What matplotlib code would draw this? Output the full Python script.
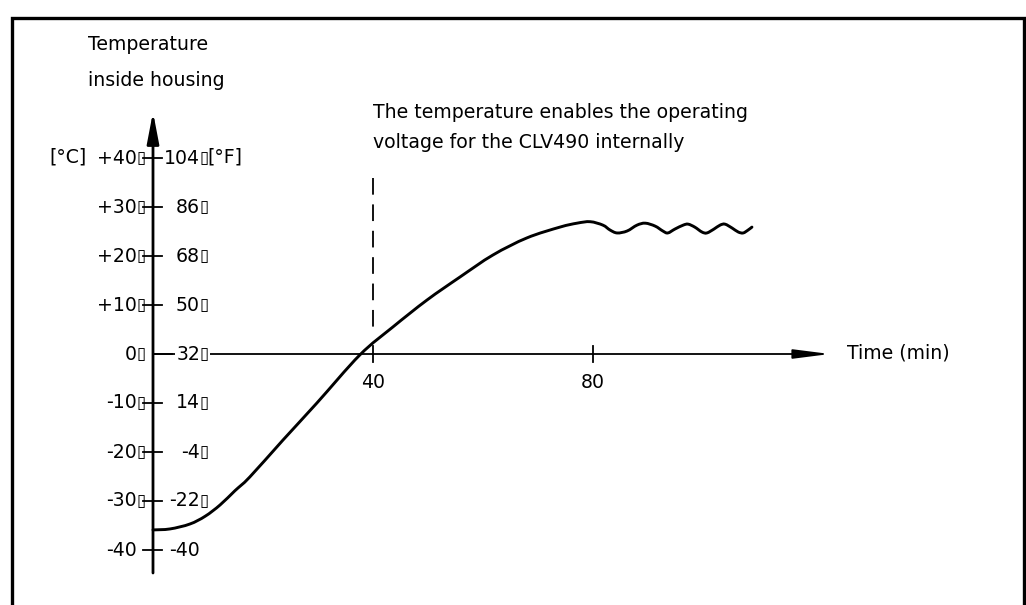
import numpy as np
import matplotlib
matplotlib.use('Agg')
import matplotlib.pyplot as plt
from matplotlib.path import Path
from matplotlib.patches import PathPatch

plt.rcParams['font.family'] = ['DejaVu Sans']
plt.rcParams['lines.scale_dashes'] = False

# temperature curve (time in min, temperature in degC)
time_min = [0, 3.1, 6.7, 9.5, 12.2, 14.9, 17.6, 23.6, 29.8, 37.6,
            43.6, 49.8, 55.8, 61.8, 68.0, 74.0, 77.1, 79.5,
            81.8, 83.1, 84.4, 86.2, 88.0, 89.5, 91.3, 92.7, 93.6, 94.9, 96.4,
            97.3, 98.5, 99.8, 100.7, 102.0, 103.1, 104.0, 105.3, 106.4, 107.3,
            108.2, 108.9]
temp_c = [-35.9, -35.7, -34.7, -33.1, -30.8, -27.9, -25.1, -17.6, -10.0, -0.2,
          5.5, 11.0, 15.7, 20.2, 23.7, 25.9, 26.7, 27.0,
          26.3, 25.3, 24.7, 25.1, 26.3, 26.7, 26.1, 25.1, 24.7, 25.5, 26.3,
          26.5, 25.9, 24.9, 24.7, 25.5, 26.3, 26.5, 25.7, 24.9, 24.7,
          25.3, 25.9]

c_ticks = [40, 30, 20, 10, 0, -10, -20, -30, -40]
c_labels = ['+40\u25af', '+30\u25af', '+20\u25af', '+10\u25af', '0\u25af',
            '-10\u25af', '-20\u25af', '-30\u25af', '-40']
f_labels = ['104\u25af', '86\u25af', '68\u25af', '50\u25af', '32\u25af',
            '14\u25af', '-4\u25af', '-22\u25af', '-40']
x_ticks = [40, 80]
x_labels = ['40', '80']
switch_time = 40

# pixel scale of the drawing: 5.5 px per minute, 4.9 px per degC
px_x, px_y = 5.5, 4.9
x0, y0 = 153, 354
W, H = 1026, 605

fig = plt.figure(figsize=(W / 100, H / 100), dpi=100)
ax = fig.add_axes([0, 0, 1, 1])
ax.set_xlim(-x0 / px_x, (W - x0) / px_x)
ax.set_ylim((y0 - H) / px_y, y0 / px_y)
ax.axis('off')

def X(px):
    return (px - x0) / px_x

def Y(py):
    return (y0 - py) / px_y

fs = 13.6
box_fs = 12

def label(x, y, s, bg=False):
    # number right-aligned at x, the little box glyph just after it
    box = s.endswith('\u25af')
    t = ax.text(x, y, s.rstrip('\u25af'), ha='right', va='center', fontsize=fs)
    if bg:
        t.set_bbox(dict(facecolor='white', edgecolor='none', pad=1))
    if box:
        b = ax.text(x - 0.1, y + 0.1, '\u25af', ha='left', va='center',
                    fontsize=box_fs)
        if bg:
            b.set_bbox(dict(facecolor='white', edgecolor='none', pad=1))

# frame (open at the bottom)
fl, fr, ft = 12 / W, 1024 / W, 1 - 18 / H
ax.plot([fl, fl, fr, fr], [0, ft, ft, 0], transform=ax.transAxes, color='k',
        lw=2.4, clip_on=False, solid_joinstyle='miter')

# y axis with arrow
ax.annotate('', xy=(0, Y(112)), xytext=(0, Y(573)),
            arrowprops=dict(arrowstyle='-|>,head_length=0.94,head_width=0.18',
                            lw=2, color='k', mutation_scale=20,
                            shrinkA=0, shrinkB=0))
# x axis with arrow
ax.annotate('', xy=(X(830), 0), xytext=(0, 0),
            arrowprops=dict(arrowstyle='-|>,head_length=1.1,head_width=0.14',
                            lw=1.3, color='k', mutation_scale=20,
                            shrinkA=0, shrinkB=0))

# y ticks and labels
for t, cl, fl_ in zip(c_ticks, c_labels, f_labels):
    if t == 0:
        ax.plot([0, X(172)], [0, 0], color='k', lw=1.3)
    else:
        ax.plot([X(143), X(162)], [t, t], color='k', lw=1.3)
    label(X(137), t, cl)
    label(X(200), t, fl_, bg=(t == 0))

ax.text(X(87), Y(157), '[\u00b0C]', ha='right', va='center', fontsize=fs)
ax.text(X(207), Y(157), '[\u00b0F]', ha='left', va='center', fontsize=fs)

# x ticks
for t, lab in zip(x_ticks, x_labels):
    ax.plot([t, t], [1.6, -1.6], color='k', lw=1.3)
    ax.text(t, Y(383), lab, ha='center', va='center', fontsize=fs)
ax.text(X(847), Y(353), 'Time (min)', ha='left', va='center', fontsize=fs)

# switch-on marker
ax.plot([switch_time, switch_time], [Y(178), Y(327)], color='k', lw=1.3,
        dashes=(12, 7))
ax.text(switch_time, Y(112), 'The temperature enables the operating',
        ha='left', va='center', fontsize=fs)
ax.text(switch_time, Y(142), 'voltage for the CLV490 internally',
        ha='left', va='center', fontsize=fs)

# axis title
ax.text(X(88), Y(44), 'Temperature', ha='left', va='center', fontsize=fs)
ax.text(X(88), Y(80), 'inside housing', ha='left', va='center', fontsize=fs)

# temperature curve, drawn as a smooth Bezier path through the read points
pts = np.column_stack([time_min, temp_c])
ext = np.vstack([pts[:1], pts, pts[-1:]])
verts = [pts[0]]
codes = [Path.MOVETO]
for i in range(1, len(ext) - 2):
    p0, p1, p2, p3 = ext[i - 1], ext[i], ext[i + 1], ext[i + 2]
    verts += [p1 + (p2 - p0) / 6, p2 - (p3 - p1) / 6, p2]
    codes += [Path.CURVE4] * 3
ax.add_patch(PathPatch(Path(verts, codes), facecolor='none', edgecolor='k',
                       lw=2.1, capstyle='round', joinstyle='round'))

fig.savefig('out.png', dpi=100)
